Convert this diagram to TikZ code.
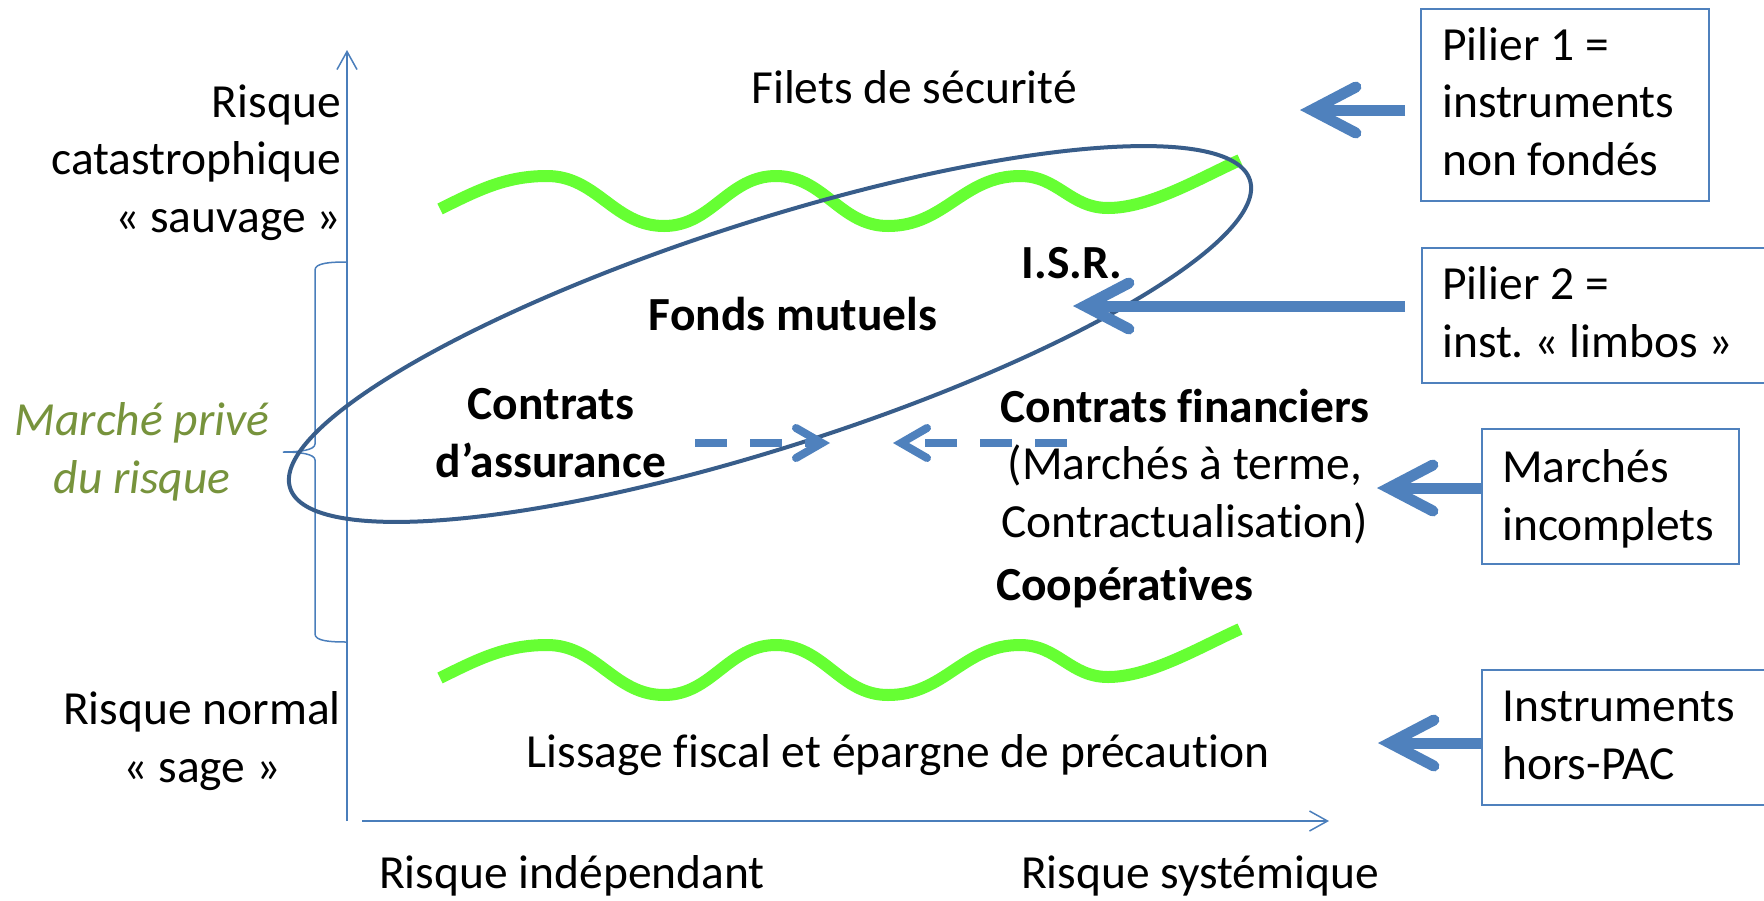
\documentclass[tikz,border=0pt]{standalone}
\usepackage{fontspec}
\setmainfont{Carlito}[Ligatures=NoCommon]
\usetikzlibrary{arrows.meta,calc}
\definecolor{axisblue}{HTML}{4A7EBB}
\definecolor{arrowblue}{HTML}{4F81BD}
\definecolor{ellblue}{HTML}{385D8A}
\definecolor{wavegreen}{HTML}{66FF33}
\definecolor{olivegreen}{HTML}{77933C}
\frenchspacing
\begin{document}
\begin{tikzpicture}[x=1pt,y=-1pt,
  txt/.style={font=\fontsize{47.5}{57.5}\selectfont, inner sep=0pt, text=black, anchor=base},
  boldtxt/.style={txt, font=\fontsize{47.5}{57.5}\selectfont\bfseries},
  axisline/.style={draw=axisblue, line width=1.5pt, -{Straight Barb[length=18pt,width=20pt]}},
  bigarrow/.style={draw=arrowblue, line width=11pt, -{Straight Barb[length=44pt,width=46pt,line cap=round]}},
  dasharrow/.style={draw=arrowblue, line width=8pt, dash pattern=on 32pt off 23pt, -{Straight Barb[length=26pt,width=30pt,line cap=round]}},
  boxframe/.style={draw=arrowblue, line width=2pt, inner sep=0pt, anchor=north west},
  wave/.style={draw=wavegreen, line width=12pt},
  bracket/.style={draw=axisblue, line width=1.5pt}
]
\useasboundingbox (0,0) rectangle (1764,900);
\clip (0,0) rectangle (1764,900);
\fill[white] (0,0) rectangle (1764,900);

% axes
\coordinate (yb) at (347,821);
\coordinate (yt) at (347,50);
\coordinate (xl) at (362,821);
\coordinate (xr) at (1329,821);
\draw[axisline] (yb) -- (yt);
\draw[axisline] (xl) -- (xr);

% brace
\draw[bracket] (347,262) .. controls (330,262) and (315,263) .. (315,270) -- (315,444)
  .. controls (315,450) and (300,452) .. (283,452)
  .. controls (300,452) and (315,454) .. (315,460) -- (315,634)
  .. controls (315,641) and (330,642) .. (347,642);

% waves
\foreach \dy in {0,469}{
\begin{scope}[yshift=-\dy pt]
\draw[wave] (440,209) .. controls (480,189) and (507,176) .. (547,176)
  .. controls (597,176) and (614,226) .. (664,226)
  .. controls (712,226) and (728,176) .. (776,176)
  .. controls (824,176) and (840,226) .. (888,226)
  .. controls (945,226) and (963,176) .. (1020,176)
  .. controls (1058,176) and (1070,208) .. (1108,208)
  .. controls (1150,208) and (1200,178) .. (1240,160);
\end{scope}}

% ellipse
\draw[draw=ellblue, line width=4pt, rotate around={17.8:(770,334)}] (770,334) ellipse [x radius=504pt, y radius=113pt];

% dashed arrows
\coordinate (da1s) at (695,443);
\coordinate (da1e) at (830,443);
\coordinate (da2s) at (1067,443);
\coordinate (da2e) at (893,443);
\draw[dasharrow] (da1s) -- (da1e);
\draw[dasharrow] (da2s) -- (da2e);

% boxes
\node[boxframe, minimum width=288pt, minimum height=192pt] (b1) at (1420,8) {};
\node[boxframe, minimum width=400pt, minimum height=135pt] (b2) at (1421,247) {};
\node[boxframe, minimum width=257pt, minimum height=135pt] (b3) at (1481,428) {};
\node[boxframe, minimum width=400pt, minimum height=135pt] (b4) at (1481,669) {};

\node[txt, anchor=base west, align=left] (tb1) at (1442,175) {Pilier 1 =\\instruments\\non fondés};
\node[txt, anchor=base west, align=left] (tb2) at (1442,357) {Pilier 2 =\\inst. « limbos »};
\node[txt, anchor=base west, align=left] (tb3) at (1502,540) {Marchés\\incomplets};
\node[txt, anchor=base west, align=left] (tb4) at (1502,779) {Instruments\\hors-PAC};

% big arrows
\coordinate (a1) at (1300,110);
\coordinate (a2) at (1073,306);
\coordinate (a3) at (1377,488);
\coordinate (a4) at (1378,743);
\draw[bigarrow] ($(b1.west |- a1)+(-15,0)$) -- (a1);
\draw[bigarrow] ($(b2.west |- a2)+(-16,0)$) -- (a2);
\draw[bigarrow] (b3.west |- a3) -- (a3);
\draw[bigarrow] (b4.west |- a4) -- (a4);

% texts
\node[txt] (filets) at (914,103) {Filets de sécurité};
\node[boldtxt] (isr) at (1072,278) {I.S.R.};
\node[boldtxt] (fonds) at (793,330) {Fonds mutuels};
\node[boldtxt, align=center] (assur) at (551,477) {Contrats\\d’assurance};
\node[txt, align=center] (fin) at (1185,537) {\textbf{Contrats financiers}\\(Marchés à terme,\\Contractualisation)};
\node[boldtxt] (coop) at (1125,600) {Coopératives};
\node[txt] (lissage) at (898,767) {Lissage fiscal et épargne de précaution};
\node[txt] (indep) at (572,888) {Risque indépendant};
\node[txt] (syst) at (1200,888) {Risque systémique};
\node[txt, anchor=base east, align=right] (cat) at (341,232) {Risque\\catastrophique\\« sauvage »};
\node[txt, align=center] (normal) at (202,782) {Risque normal\\« sage »};
\node[txt, align=center, text=olivegreen, font=\fontsize{47.5}{57.5}\selectfont\itshape] (marche) at (142,493) {Marché privé\\du risque};
\end{tikzpicture}
\end{document}
